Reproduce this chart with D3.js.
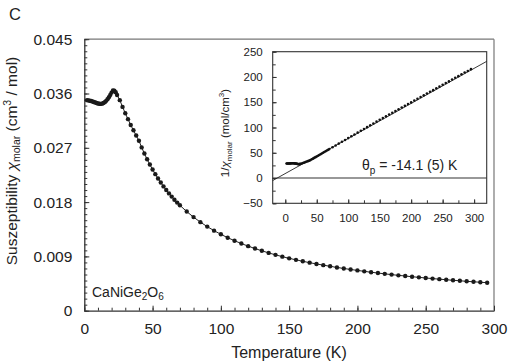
<!DOCTYPE html>
<html><head><meta charset="utf-8">
<script src="https://cdn.jsdelivr.net/npm/d3@7"></script>
<style>
html,body{margin:0;padding:0;background:#fff;}
svg{display:block;font-family:"Liberation Sans",Arial,Helvetica,sans-serif;}
</style></head>
<body>
<svg id="c" width="510" height="364"></svg>
<script>
// ---- data ----
const temps = [2,3,4,5,6,7,8,9,10,11,12,13,14,15,16,17,18,19,20,21,22,23,24,
  26,28,30,32,34,36,38,40,42,44,46,48,50,52,54,56,58,60,62,64,66,68,70,
  75,80,85,90,95,100,105,110,115,120,125,130,135,140,145,150,155,160,165,170,
  175,180,185,190,195,200,205,210,215,220,225,230,235,240,245,250,255,260,265,
  270,275,280,285,290,295];
const chiMolar = [0.03490,0.03486,0.03481,0.03475,0.03468,0.03460,0.03451,0.03442,0.03434,0.03429,
  0.03428,0.03432,0.03442,0.03457,0.03478,0.03505,0.03538,0.03577,0.03615,0.03650,0.03645,0.03620,0.03575,
  0.03490,0.03378,0.03273,0.03175,0.03077,0.02990,0.02903,0.02818,0.02707,0.02605,0.02510,0.02422,
  0.02340,0.02263,0.02191,0.02124,0.02060,0.02000,0.01944,0.01891,0.01840,0.01792,0.01747,
  0.01643,0.01551,0.01468,0.01394,0.01327,0.01266,0.01210,0.01160,0.01113,0.01070,0.01030,0.00993,
  0.00958,0.00926,0.00896,0.00868,0.00843,0.00819,0.00796,0.00775,0.00755,0.00736,0.00717,0.00700,
  0.00683,0.00668,0.00652,0.00638,0.00624,0.00611,0.00598,0.00586,0.00575,0.00563,0.00553,0.00542,
  0.00532,0.00523,0.00513,0.00504,0.00496,0.00487,0.00479,0.00472,0.00464];
const mainXTicks = [0,50,100,150,200,250,300];
const mainYTicks = [0,0.009,0.018,0.027,0.036,0.045];
const insetXTicks = [0,50,100,150,200,250,300];
const insetYTicks = [-50,0,50,100,150,200,250];
const fitT = [-20,320];
const fitInv = [-5.0,230.9];
const thetaLabel = "-14.1 (5) K";

// ---- layout ----
const svg = d3.select("#c");
const x = d3.scaleLinear().domain([0,300]).range([84.3,494]);
const y = d3.scaleLinear().domain([0,0.045]).range([310.7,39.2]);
const axisCol = "#333";

// frame top/right
svg.append("line").attr("x1",x(0)).attr("x2",x(300)).attr("y1",y(0.045)).attr("y2",y(0.045))
  .attr("stroke","#777").attr("stroke-width",1.2);
svg.append("line").attr("x1",x(300)).attr("x2",x(300)).attr("y1",y(0.045)).attr("y2",y(0))
  .attr("stroke","#777").attr("stroke-width",1.2);

// main minor ticks
const minorY = d3.range(0,0.0451,0.001);
const minorX = d3.range(0,301,10);
svg.append("g").attr("transform",`translate(${x(0)},0)`)
  .call(d3.axisLeft(y).tickValues(minorY).tickSize(-3).tickFormat(""))
  .call(g=>g.select(".domain").remove())
  .call(g=>g.selectAll("line").attr("stroke",axisCol));
svg.append("g").attr("transform",`translate(0,${y(0)})`)
  .call(d3.axisBottom(x).tickValues(minorX).tickSize(-3).tickFormat(""))
  .call(g=>g.select(".domain").remove())
  .call(g=>g.selectAll("line").attr("stroke",axisCol));

// main major axes
const fmtY = d => d===0 ? "0" : d3.format(".3f")(d);
const gy = svg.append("g").attr("transform",`translate(${x(0)},0)`)
  .call(d3.axisLeft(y).tickValues(mainYTicks).tickSizeInner(-5).tickSizeOuter(0).tickPadding(12).tickFormat(fmtY));
gy.select(".domain").attr("stroke",axisCol).attr("stroke-width",1.3);
gy.selectAll("line").attr("stroke",axisCol);
gy.selectAll("text").attr("font-size",15.5).attr("fill","#222").attr("font-family","Liberation Sans, Arial, sans-serif");
const gx = svg.append("g").attr("transform",`translate(0,${y(0)})`)
  .call(d3.axisBottom(x).tickValues(mainXTicks).tickSizeInner(-5).tickSizeOuter(0).tickPadding(12));
gx.select(".domain").attr("stroke",axisCol).attr("stroke-width",1.3);
gx.selectAll("line").attr("stroke",axisCol);
gx.selectAll("text").attr("font-size",15.5).attr("fill","#222").attr("font-family","Liberation Sans, Arial, sans-serif");

// main data
const pts = temps.map((t,i)=>[t,chiMolar[i]]);
svg.append("path").datum(pts)
  .attr("d",d3.line().x(d=>x(d[0])).y(d=>y(d[1])))
  .attr("fill","none").attr("stroke","#222").attr("stroke-width",1);
svg.append("g").selectAll("circle").data(pts).join("circle")
  .attr("cx",d=>x(d[0])).attr("cy",d=>y(d[1])).attr("r",2.2).attr("fill","#1a1a1a");

// titles
svg.append("text").attr("x",9).attr("y",20).attr("font-size",16.5).attr("fill","#222").text("C");
svg.append("text").attr("x",289).attr("y",358).attr("text-anchor","middle").attr("font-size",16).attr("fill","#222")
  .text("Temperature (K)");
const yt = svg.append("text").attr("transform","translate(17,161) rotate(-90)")
  .attr("text-anchor","middle").attr("font-size",15.5).attr("fill","#222");
yt.append("tspan").text("Suszeptibility ");
yt.append("tspan").attr("font-style","italic").text("χ");
yt.append("tspan").attr("font-size",10.5).attr("dy",3).text("molar");
yt.append("tspan").attr("dy",-3).text(" (cm");
yt.append("tspan").attr("font-size",10.5).attr("dy",-6).text("3");
yt.append("tspan").attr("dy",6).text(" / mol)");
const cn = svg.append("text").attr("x",92).attr("y",297).attr("font-size",14).attr("fill","#222");
cn.append("tspan").text("CaNiGe");
cn.append("tspan").attr("font-size",10).attr("dy",3).text("2");
cn.append("tspan").attr("dy",-3).text("O");
cn.append("tspan").attr("font-size",10).attr("dy",3).text("6");

// ---- inset ----
const ix = d3.scaleLinear().domain([-20,320]).range([272.7,486.7]);
const iy = d3.scaleLinear().domain([-50,250]).range([203.3,51.7]);
const ins = svg.append("g");
ins.append("rect").attr("x",ix(-20)).attr("y",iy(250)).attr("width",ix(320)-ix(-20)).attr("height",iy(-50)-iy(250))
  .attr("fill","#fff").attr("stroke","#333").attr("stroke-width",1.1);
ins.append("g").attr("transform",`translate(${ix(-20)},0)`)
  .call(d3.axisLeft(iy).tickValues(d3.range(-50,251,25)).tickSize(-3).tickFormat(""))
  .call(g=>g.select(".domain").remove())
  .call(g=>g.selectAll("line").attr("stroke",axisCol));
ins.append("g").attr("transform",`translate(0,${iy(-50)})`)
  .call(d3.axisBottom(ix).tickValues(d3.range(0,301,25)).tickSize(-3).tickFormat(""))
  .call(g=>g.select(".domain").remove())
  .call(g=>g.selectAll("line").attr("stroke",axisCol));
const iyA = ins.append("g").attr("transform",`translate(${ix(-20)},0)`)
  .call(d3.axisLeft(iy).tickValues(insetYTicks).tickSizeInner(-4).tickSizeOuter(0).tickPadding(10));
iyA.select(".domain").remove();
iyA.selectAll("line").attr("stroke",axisCol);
iyA.selectAll("text").attr("font-size",11.5).attr("fill","#222").attr("font-family","Liberation Sans, Arial, sans-serif");
const ixA = ins.append("g").attr("transform",`translate(0,${iy(-50)})`)
  .call(d3.axisBottom(ix).tickValues(insetXTicks).tickSizeInner(-4).tickSizeOuter(0).tickPadding(11));
ixA.select(".domain").remove();
ixA.selectAll("line").attr("stroke",axisCol);
ixA.selectAll("text").attr("font-size",11.5).attr("fill","#222").attr("font-family","Liberation Sans, Arial, sans-serif");
// zero line
ins.append("line").attr("x1",ix(-20)).attr("x2",ix(320)).attr("y1",iy(0)).attr("y2",iy(0))
  .attr("stroke","#333").attr("stroke-width",1.1);
// fit line
ins.append("line").attr("x1",ix(fitT[0])).attr("x2",ix(fitT[1])).attr("y1",iy(fitInv[0])).attr("y2",iy(fitInv[1]))
  .attr("stroke","#222").attr("stroke-width",0.9);
// inverse data
ins.append("g").selectAll("circle").data(pts).join("circle")
  .attr("cx",d=>ix(d[0])).attr("cy",d=>iy(1/d[1])).attr("r",1.3).attr("fill","#111");
// inset y title
const it = ins.append("text").attr("transform","translate(229,133) rotate(-90)")
  .attr("text-anchor","middle").attr("font-size",11.5).attr("fill","#222");
it.append("tspan").text("1/");
it.append("tspan").attr("font-style","italic").text("χ");
it.append("tspan").attr("font-size",8).attr("dy",2.5).text("molar");
it.append("tspan").attr("dy",-2.5).text(" (mol/cm");
it.append("tspan").attr("font-size",8).attr("dy",-5).text("3");
it.append("tspan").attr("dy",5).text(")");
// theta label
const th = ins.append("text").attr("x",362).attr("y",170).attr("font-size",14).attr("fill","#222");
th.append("tspan").text("θ");
th.append("tspan").attr("font-size",10).attr("dy",3.5).text("p");
th.append("tspan").attr("dy",-3.5).text(" = " + thetaLabel);
</script>
</body></html>
